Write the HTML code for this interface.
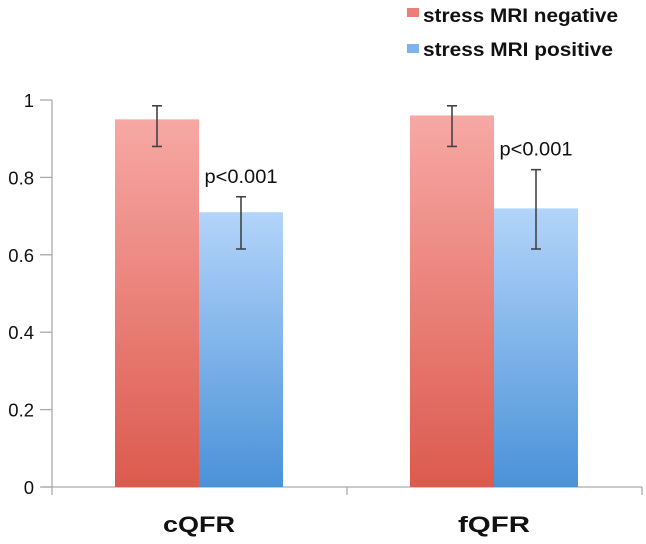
<!DOCTYPE html>
<html><head><meta charset="utf-8"><style>
body{margin:0;background:#fff;width:646px;height:539px;overflow:hidden}
svg text{font-family:"Liberation Sans",sans-serif}
</style></head><body>
<svg id="c" width="646" height="539">
<defs>
<linearGradient id="gr" x1="0" y1="0" x2="0" y2="1"><stop offset="0" stop-color="#f7a8a4"/><stop offset="1" stop-color="#dc5a4e"/></linearGradient>
<linearGradient id="gb" x1="0" y1="0" x2="0" y2="1"><stop offset="0" stop-color="#b3d4fa"/><stop offset="1" stop-color="#4a92d8"/></linearGradient>
</defs>
<g>
<rect x="407" y="8" width="12" height="9" fill="#ea7f7a"/>
<text x="423" y="22" font-size="19" font-weight="bold" fill="#111" textLength="195" lengthAdjust="spacingAndGlyphs">stress MRI negative</text>
<rect x="407" y="44" width="12" height="9" fill="#7fb1ea"/>
<text x="423" y="56" font-size="19" font-weight="bold" fill="#111" textLength="190" lengthAdjust="spacingAndGlyphs">stress MRI positive</text>
</g>
</svg>
<script>
const categories=["cQFR","fQFR"];
const negValues=[0.95,0.96];
const posValues=[0.71,0.72];
const negErrLow=[0.88,0.88];
const negErrHigh=[0.985,0.985];
const posErrLow=[0.615,0.615];
const posErrHigh=[0.75,0.82];
const yTicks=[0,0.2,0.4,0.6,0.8,1];
const yTickLabels=["0","0.2","0.4","0.6","0.8","1"];
const pLabels=["p<0.001","p<0.001"];
const svg=document.getElementById('c');
const NS="http://www.w3.org/2000/svg";
const x0=52,x1=642,y0=487,yTop=100;
const y=v=>y0-(v)*(y0-yTop);
const catW=(x1-x0)/categories.length;
const barW=84;
function mk(t,a,p){const e=document.createElementNS(NS,t);for(const k in a)e.setAttribute(k,a[k]);(p||svg).appendChild(e);return e;}
let ax=mk('line',{x1:x0,y1:y0+8,x2:x0,y2:yTop,stroke:'#aaa','stroke-width':1.3});


let xa=mk('line',{x1:x0-9,y1:y0,x2:x1,y2:y0,stroke:'#aaa','stroke-width':1.3});


yTicks.forEach((v,i)=>{
 const t=mk('line',{x1:x0-12,y1:y(v),x2:x0,y2:y(v),stroke:'#aaa','stroke-width':1.3});
 
 
 const l=mk('text',{x:34,y:y(v)+7,'font-size':18.5,'text-anchor':'end',fill:'#111'});
 l.textContent=yTickLabels[i];
 
 
});
for(let i=1;i<=categories.length;i++){
 const t=mk('line',{x1:x0+i*catW,y1:y0,x2:x0+i*catW,y2:y0+8,stroke:'#aaa','stroke-width':1.3});
 
 
}
function err(cx,lo,hi){
 const g=mk('g',{stroke:'#444','stroke-width':1.6});
 
 
 mk('line',{x1:cx,y1:y(lo),x2:cx,y2:y(hi)},g);
 mk('line',{x1:cx-5,y1:y(lo),x2:cx+5,y2:y(lo)},g);
 mk('line',{x1:cx-5,y1:y(hi),x2:cx+5,y2:y(hi)},g);
}
categories.forEach((c,i)=>{
 const mid=x0+catW*(i+0.5)-0.5;
 const b1=mk('rect',{x:mid-barW,y:y(negValues[i]),width:barW,height:y0-y(negValues[i]),fill:'url(#gr)'});
 
 
 const b2=mk('rect',{x:mid,y:y(posValues[i]),width:barW,height:y0-y(posValues[i]),fill:'url(#gb)'});
 
 
 err(mid-barW/2,negErrLow[i],negErrHigh[i]);
 err(mid+barW/2,posErrLow[i],posErrHigh[i]);
 const p=mk('text',{x:mid+barW/2,y:y(posErrHigh[i])-14,'font-size':19.5,'text-anchor':'middle',fill:'#111',textLength:73,lengthAdjust:'spacingAndGlyphs'});
 p.textContent=pLabels[i];
 
 
 const l=mk('text',{x:mid,y:532,'font-size':22,'font-weight':'bold','text-anchor':'middle',fill:'#111',textLength:72,lengthAdjust:'spacingAndGlyphs'});
 l.textContent=c;
 
 
});
</script>
</body></html>
